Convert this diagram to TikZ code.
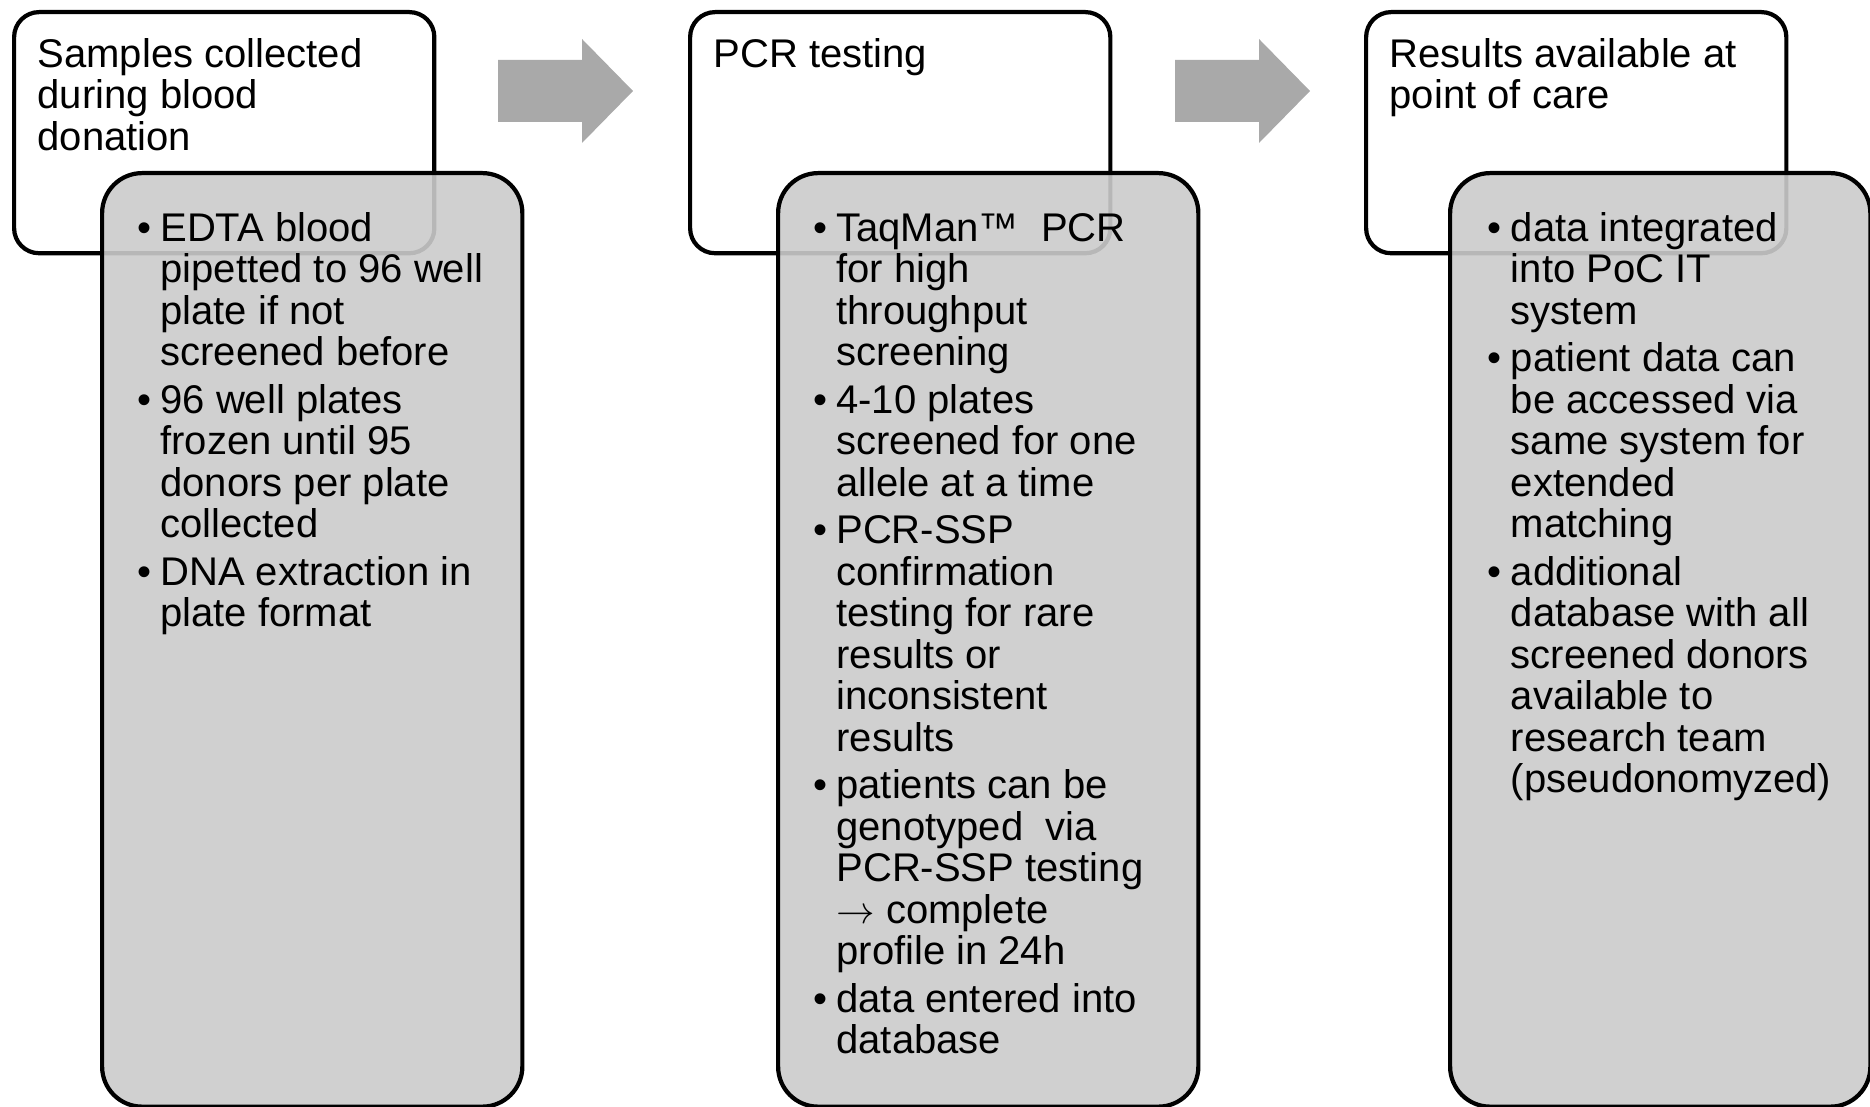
\documentclass[tikz,border=0pt]{standalone}
\usepackage{fontspec}
\setmainfont{Liberation Sans}
\definecolor{boxgray}{HTML}{CBCBCB}
\definecolor{arrowgray}{HTML}{A9A9A9}
\newlength\bind
\setlength\bind{6.6pt}
\newcommand\bitem[1]{\hangindent=\bind\hangafter=1\noindent\makebox[\bind][l]{•}#1\par}
\newcommand\txtblock[1]{\vtop{\hsize=5cm\fontsize{11.38pt}{11.78pt}\selectfont\parskip=1.79pt\parindent=0pt\raggedright #1}}
\tikzset{
  whitebox/.style={draw, line width=1.2pt, rounded corners=0.25cm, fill=white, inner sep=0pt,
    minimum width=4.2cm, minimum height=2.41cm, anchor=north west},
  greybox/.style={draw, line width=1.2pt, rounded corners=0.4cm, fill=boxgray, fill opacity=0.9,
    inner sep=0pt, minimum width=4.2cm, minimum height=9.33cm, anchor=north west},
  txt/.style={anchor=base west, inner sep=0pt},
  blockarrow/.style={fill=arrowgray}
}
\begin{document}
\begin{tikzpicture}[x=0.01cm, y=-0.01cm]
\useasboundingbox (0,0) rectangle (1870,1107);
% column 1
\node[whitebox] (w1) at (12,10) {};
\node[txt] (w1t) at (37,67.4) {\txtblock{Samples collected\newline during blood\newline donation\par}};
\node[greybox] (g1) at (100,171) {};
\node[txt] (g1t) at (136.5,241.4) {\txtblock{%
\bitem{EDTA blood\newline pipetted to 96 well\newline plate if not\newline screened before}%
\bitem{96 well plates\newline frozen until 95\newline donors per plate\newline collected}%
\bitem{DNA extraction in\newline plate format}}};
% arrow 1
\fill[blockarrow] (498,60) -- (582,60) -- (582,39) -- (633,91) -- (582,143) -- (582,122) -- (498,122) -- cycle;
% column 2
\node[whitebox] (w2) at (688,10) {};
\node[txt] (w2t) at (713,67.4) {\txtblock{PCR testing\par}};
\node[greybox] (g2) at (776,171) {};
\node[txt] (g2t) at (812.5,241.4) {\txtblock{%
\bitem{TaqMan™~ PCR\newline for high\newline throughput\newline screening}%
\bitem{4-10 plates\newline screened for one\newline allele at a time}%
\bitem{PCR-SSP\newline confirmation\newline testing for rare\newline results or\newline inconsistent\newline results}%
\bitem{patients can be\newline genotyped~ via\newline PCR-SSP testing\newline $\rightarrow$ complete\newline profile in 24h}%
\bitem{data entered into\newline database}}};
% arrow 2
\fill[blockarrow] (1175,60) -- (1259,60) -- (1259,39) -- (1310,91) -- (1259,143) -- (1259,122) -- (1175,122) -- cycle;
% column 3
\node[whitebox] (w3) at (1364,10) {};
\node[txt] (w3t) at (1389,67.4) {\txtblock{Results available at\newline point of care\par}};
\node[greybox] (g3) at (1448,171) {};
\node[txt] (g3t) at (1487,241.4) {\txtblock{%
\bitem{data integrated\newline into PoC IT\newline system}%
\bitem{patient data can\newline be accessed via\newline same system for\newline extended\newline matching}%
\bitem{additional\newline database with all\newline screened donors\newline available to\newline research team\newline (pseudonomyzed)}}};
\end{tikzpicture}
\end{document}
